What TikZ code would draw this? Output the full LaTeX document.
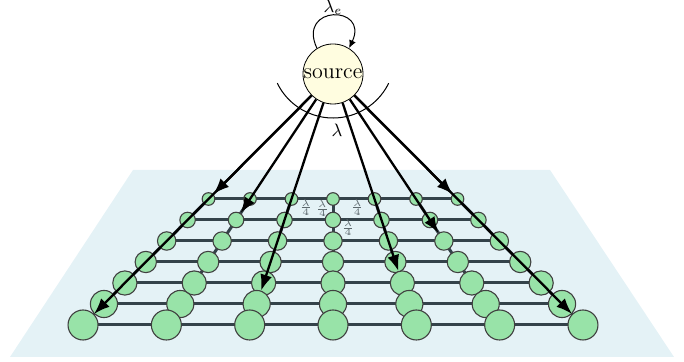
\documentclass[tikz,border=0pt]{standalone}
\usepackage{tikz}
\usetikzlibrary{arrows.meta, positioning}
\definecolor{plane}{HTML}{E4F2F6}
\definecolor{atom}{HTML}{98E3A8}
\definecolor{srcfill}{HTML}{FFFDE0}
\definecolor{wire}{HTML}{34434A}
\begin{document}
\begin{tikzpicture}[x=0.5pt, y=0.5pt,
site/.style={circle, draw=black!75, fill=atom, inner sep=0pt, line width=0.55pt},
bond/.style={draw=wire, line width=1.5pt},
flow/.style={-{Latex[length=8pt, width=6pt]}, line width=1.15pt}]
\tikzstyle{rate}=[font=\tiny, text=wire!80, inner sep=1pt]
\useasboundingbox (0,0) rectangle (684,362);
\def\fy{21}
% plane
\fill[plane] (133,192) -- (550,192) -- (674,5) -- (10,5) -- cycle;
% lattice points
\foreach \i in {1,...,7}{
  \pgfmathsetmacro\dx{41.5+6.97*(\i-1)}
  \foreach \j in {1,...,7}
    \coordinate (c-\i-\j) at ({333+(\j-4)*\dx}, {163-(\i-1)*\fy});
}
% bonds
\foreach \i in {1,...,7}
  \foreach \j [count=\k from 2] in {1,...,6}
    \draw[bond] (c-\i-\j) -- (c-\i-\k);
\foreach \i [count=\k from 2] in {1,...,6}
  \foreach \j in {1,...,7}
    \draw[bond] (c-\i-\j) -- (c-\k-\j);
% sites, back row first
\foreach \i in {1,...,7}{
  \pgfmathsetmacro\r{6.3+1.45*(\i-1)}
  \foreach \j in {1,...,7}
    \node[site, minimum size=\r pt] (n-\i-\j) at (c-\i-\j) {};
}
% rates around the middle site
\path (n-2-3) -- node[rate, above=1pt, xshift=-1.5pt] {$\frac{\lambda}{4}$} (n-2-4);
\path (n-1-4) -- node[rate, left=0.8pt] {$\frac{\lambda}{4}$} (n-2-4);
\path (n-2-4) -- node[rate, above=1pt] {$\frac{\lambda}{4}$} (n-2-5);
\path (n-2-4) -- node[rate, right=3pt, yshift=1pt] {$\frac{\lambda}{4}$} (n-3-4);

%source
\node[circle, draw, fill=srcfill, inner sep=0pt, minimum size=30pt, font=\fontsize{11}{13}\selectfont] (source) at (333,288) {source};
\draw[line width=0.5pt, -{Latex[length=4pt, width=3.5pt]}] (source.122) .. controls +(115:24pt) and +(65:24pt) .. (source.58)
  node[midway, above, inner sep=0.5pt, font=\small] {$\lambda_e$};
\draw[line width=0.5pt] ([yshift=9pt]source.center) ++(206:31pt) arc[start angle=206, end angle=334, radius=31pt];
\node[font=\small] (lambda) at (337,232) {$\lambda$};

% emitted particles
\foreach \t in {1-1, 2-2, 7-1, 6-3, 5-5, 3-6, 1-7, 7-7}
  \draw[flow] (source) -- (n-\t);
\end{tikzpicture}
\end{document}
